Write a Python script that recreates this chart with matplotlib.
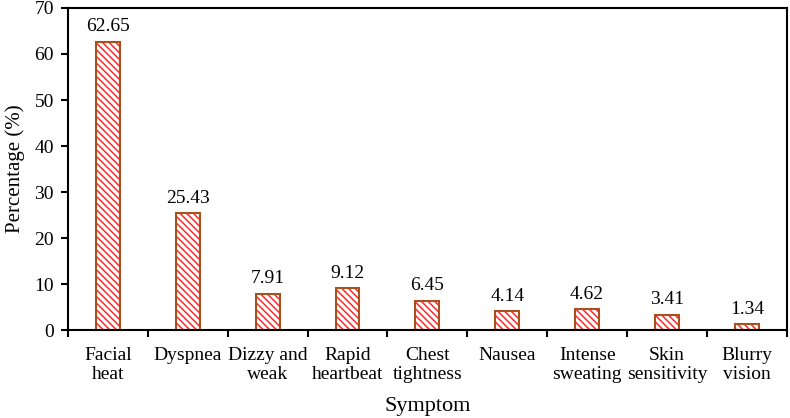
import numpy as np
import matplotlib.pyplot as plt

plt.rcParams['font.family'] = ['Liberation Serif', 'DejaVu Serif']
plt.rcParams['hatch.linewidth'] = 1.1

symptoms = ["Facial\nheat", "Dyspnea", "Dizzy and\nweak", "Rapid\nheartbeat", "Chest\ntightness",
            "Nausea", "Intense\nsweating", "Skin\nsensitivity", "Blurry\nvision"]
percent = [62.65, 25.43, 7.91, 9.12, 6.45, 4.14, 4.62, 3.41, 1.34]

fig = plt.figure(figsize=(7.9, 4.18), dpi=100)
ax = fig.add_axes([0.086, 0.21, 0.91, 0.771])

x = np.arange(len(symptoms))
# hatch drawn in red, outline in brown on top
ax.bar(x, percent, width=0.3, color='white', edgecolor='#FF2A2A', hatch='\\\\\\\\\\', linewidth=0)
ax.bar(x, percent, width=0.3, fill=False, edgecolor='#A8501E', linewidth=1.5)

for xi, v in zip(x, percent):
    ax.text(xi, v + 1.4, f"{v:.2f}", ha='center', va='bottom', fontsize=14)

ax.set_xlim(-0.5, len(symptoms) - 0.5)
ax.set_ylim(0, 70)
ax.set_yticks(range(0, 71, 10))
ax.set_xticks(np.arange(-0.5, len(symptoms), 1))
ax.set_xticklabels([])
ax.set_xticks(x, minor=True)
ax.set_xticklabels(symptoms, minor=True, fontsize=14, linespacing=1.15)
ax.tick_params(axis='x', which='minor', length=0, pad=12)
ax.tick_params(axis='x', which='major', length=5, width=1.5, direction='out')
ax.tick_params(axis='y', length=5, width=1.5, direction='out', labelsize=14, pad=5)
for s in ax.spines.values():
    s.set_linewidth(1.5)

ax.set_xlabel("Symptom", fontsize=16, labelpad=10)
ax.set_ylabel("Percentage (%)", fontsize=15, labelpad=7)

plt.savefig("out.png", dpi=100)
